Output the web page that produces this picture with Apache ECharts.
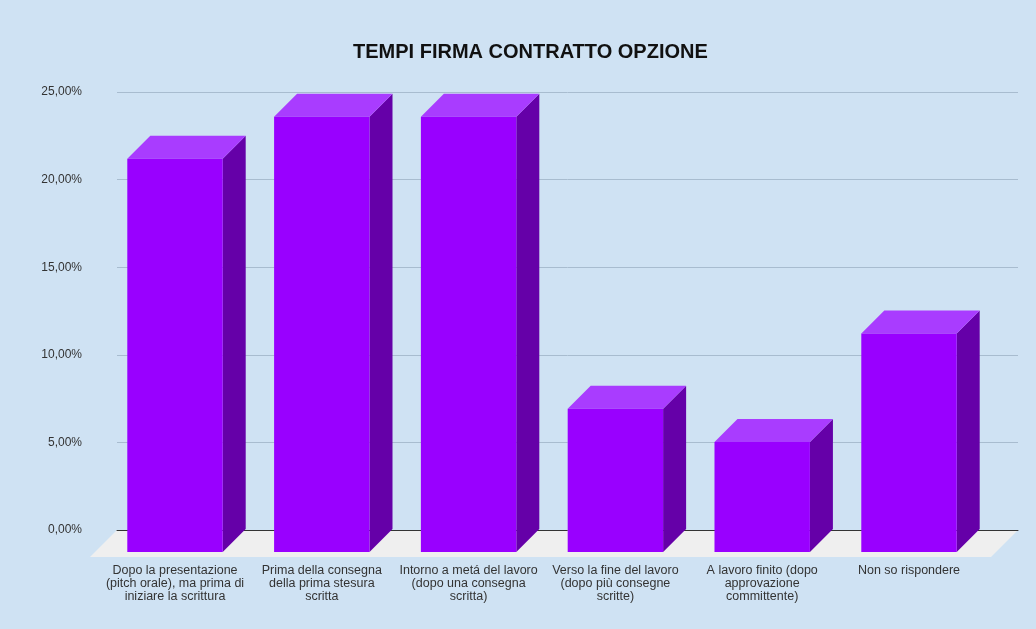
<!DOCTYPE html>
<html>
<head>
<meta charset="utf-8">
<title>TEMPI FIRMA CONTRATTO OPZIONE</title>
<script src="https://cdn.jsdelivr.net/npm/echarts@6/dist/echarts.min.js"></script>
<style>
  html, body { margin: 0; padding: 0; background: #cfe2f3; }
  #chart { width: 1036px; height: 629px; }
</style>
</head>
<body>
<div id="chart"></div>
<script>
// Response categories (x axis labels)
const categories = [
  'Dopo la presentazione\n(pitch orale), ma prima di\niniziare la scrittura',
  'Prima della consegna\ndella prima stesura\nscritta',
  'Intorno a metá del lavoro\n(dopo una consegna\nscritta)',
  'Verso la fine del lavoro\n(dopo più consegne\nscritte)',
  'A lavoro finito (dopo\napprovazione\ncommittente)',
  'Non so rispondere'
];

// Share of answers, in percent
const shares = [22.5, 24.9, 24.9, 8.2, 6.3, 12.5];

// Value axis range and ticks (percent)
const axisMin = 0;
const axisMax = 25;
const axisStep = 5;

// Depth of the pseudo-3D extrusion, in pixels
const DEPTH = 23;
const FLOOR_DX = 27;
const FLOOR_DY = 27;

const COLORS = {
  front: '#9900ff',
  top: '#a93cff',
  side: '#6500a8',
  floor: '#efefef',
  grid: '#a8bccf',
  zero: '#333333',
  text: '#333333'
};

const chart = echarts.init(document.getElementById('chart'), null, { renderer: 'canvas' });

function renderBar(params, api) {
  const idx = api.value(0);
  const val = api.value(1);
  const base = api.coord([idx, 0]);
  const top = api.coord([idx, val]);
  const bw = api.size([1, 0])[0] * 0.65;
  const x0 = base[0] - bw / 2;
  const x1 = x0 + bw;
  const yT = top[1];
  const yB = base[1];
  return {
    type: 'group',
    children: [
      {
        type: 'polygon',
        shape: { points: [[x1, yT], [x1 + DEPTH, yT - DEPTH], [x1 + DEPTH, yB - DEPTH], [x1, yB]] },
        style: { fill: COLORS.side }
      },
      {
        type: 'polygon',
        shape: { points: [[x0, yT], [x1, yT], [x1 + DEPTH, yT - DEPTH], [x0 + DEPTH, yT - DEPTH]] },
        style: { fill: COLORS.top }
      },
      {
        type: 'rect',
        shape: { x: x0, y: yT, width: bw, height: yB - yT },
        style: { fill: COLORS.front }
      }
    ]
  };
}

function renderFloor(params, api) {
  const cs = params.coordSys;
  const y0 = api.coord([0, axisMin])[1];
  const xl = cs.x;
  const xr = cs.x + cs.width;
  return {
    type: 'polygon',
    shape: {
      points: [
        [xl, y0],
        [xr, y0],
        [xr - FLOOR_DX, y0 + FLOOR_DY],
        [xl - FLOOR_DX, y0 + FLOOR_DY]
      ]
    },
    style: { fill: COLORS.floor }
  };
}

const option = {
  backgroundColor: '#cfe2f3',
  animation: false,
  title: {
    text: 'TEMPI FIRMA CONTRATTO OPZIONE',
    left: 348,
    top: 37,
    textStyle: {
      fontFamily: '"Liberation Sans", Arial, sans-serif',
      fontWeight: 'bold',
      fontSize: 20,
      color: '#111111'
    }
  },
  grid: [
    // back wall: gridlines and value labels
    { left: 117, right: 18, top: 92, bottom: 99 },
    // front plane: bars and category labels
    { left: 101.6, right: 53.6, top: 115, bottom: 77 }
  ],
  xAxis: [
    {
      gridIndex: 0,
      type: 'category',
      data: categories,
      z: 3,
      axisLine: { show: true, lineStyle: { color: COLORS.zero, width: 1 } },
      axisTick: { show: false },
      axisLabel: { show: false },
      splitLine: { show: false }
    },
    {
      gridIndex: 1,
      type: 'category',
      data: categories,
      axisLine: { show: false },
      axisTick: { show: false },
      splitLine: { show: false },
      axisLabel: {
        interval: 0,
        margin: 12,
        fontFamily: '"Liberation Sans", Arial, sans-serif',
        fontSize: 12.5,
        lineHeight: 13,
        color: COLORS.text,
        align: 'center'
      }
    }
  ],
  yAxis: [
    {
      gridIndex: 0,
      type: 'value',
      min: axisMin,
      max: axisMax,
      interval: axisStep,
      axisLine: { show: false },
      axisTick: { show: false },
      splitLine: { show: true, lineStyle: { color: COLORS.grid, width: 1 } },
      axisLabel: {
        margin: 35,
        fontFamily: '"Liberation Sans", Arial, sans-serif',
        fontSize: 12,
        color: COLORS.text,
        formatter: v => v.toFixed(2).replace('.', ',') + '%'
      }
    },
    {
      gridIndex: 1,
      type: 'value',
      min: axisMin,
      max: axisMax,
      interval: axisStep,
      show: false,
      splitLine: { show: false }
    }
  ],
  series: [
    {
      type: 'custom',
      name: 'floor',
      xAxisIndex: 0,
      yAxisIndex: 0,
      z: 1,
      silent: true,
      renderItem: renderFloor,
      data: [[0, 0]]
    },
    {
      type: 'custom',
      name: 'shares',
      xAxisIndex: 1,
      yAxisIndex: 1,
      z: 5,
      renderItem: renderBar,
      encode: { x: 0, y: 1 },
      data: shares.map((v, i) => [i, v])
    }
  ]
};

chart.setOption(option);
</script>
</body>
</html>
